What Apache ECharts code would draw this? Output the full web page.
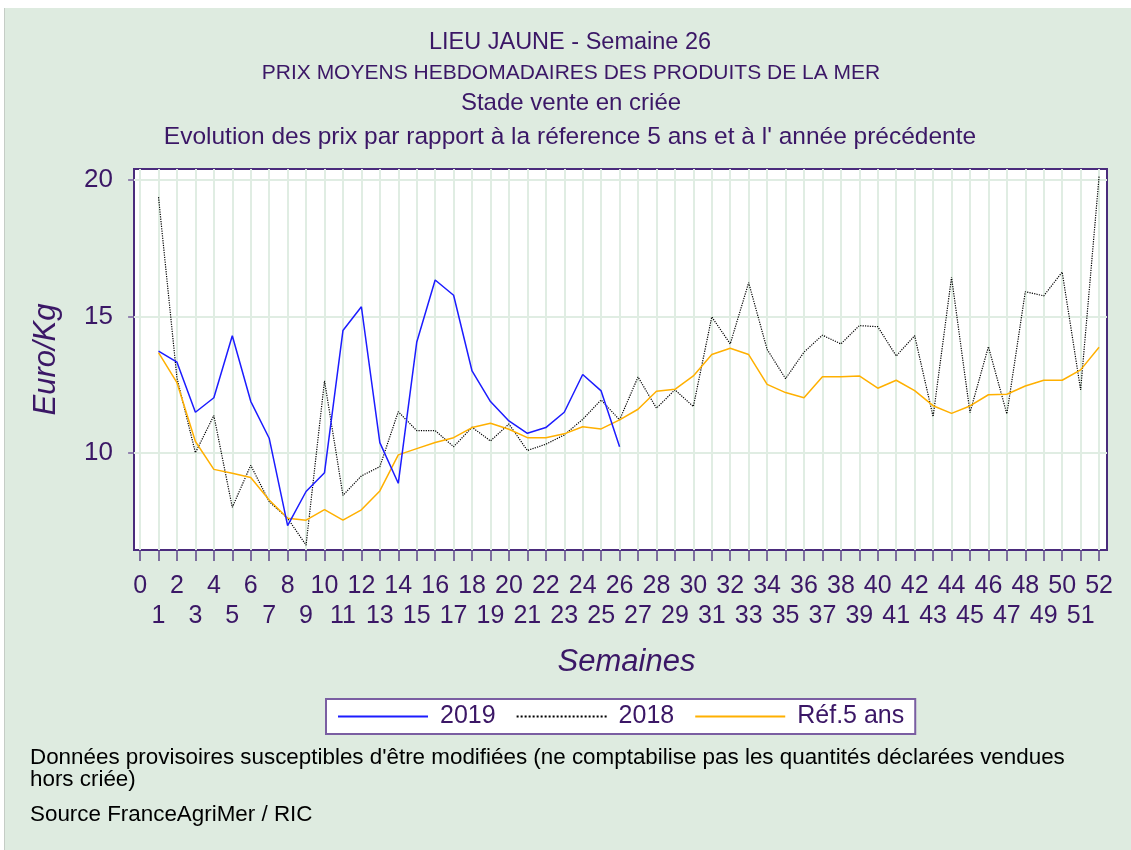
<!DOCTYPE html>
<html>
<head>
<meta charset="utf-8">
<title>Lieu jaune - Semaine 26</title>
<script src="https://cdn.jsdelivr.net/npm/echarts@6/dist/echarts.min.js"></script>
<style>
  html, body { margin: 0; padding: 0; background: #fff; }
  #frame { position: absolute; left: 4px; top: 8px; width: 1127px; height: 842px; background: #deebe0; border-left: 1px solid #c5cdc6; }
  #chart { position: absolute; left: 0; top: 0; width: 1131px; height: 850px; }
</style>
</head>
<body>
<div id="frame"></div>
<div id="chart"></div>
<script>
  // Semaines 0..52 (axe)
  const weekTicks = [0, 1, 2, 3, 4, 5, 6, 7, 8, 9, 10, 11, 12, 13, 14, 15, 16, 17, 18, 19, 20,
    21, 22, 23, 24, 25, 26, 27, 28, 29, 30, 31, 32, 33, 34, 35, 36, 37, 38, 39, 40,
    41, 42, 43, 44, 45, 46, 47, 48, 49, 50, 51, 52];
  const yTicks = [10, 15, 20];

  // prix en euro/kg, semaine 1 en premier
  const prix2019 = [13.74, 13.33, 11.50, 12.03, 14.30, 11.90, 10.55, 7.35, 8.60, 9.29,
    14.49, 15.36, 10.39, 8.90, 14.06, 16.34, 15.78, 13.01, 11.89, 11.18,
    10.73, 10.94, 11.50, 12.88, 12.28, 10.24];

  const prix2018 = [19.37, 12.75, 10.02, 11.38, 8.02, 9.56, 8.23, 7.62, 6.64, 12.65,
    8.46, 9.17, 9.51, 11.52, 10.83, 10.83, 10.24, 10.95, 10.45, 11.07,
    10.10, 10.33, 10.67, 11.24, 11.95, 11.22, 12.79, 11.65, 12.32, 11.71,
    14.99, 14.00, 16.24, 13.80, 12.73, 13.70, 14.32, 14.00, 14.67, 14.63,
    13.56, 14.30, 11.34, 16.44, 11.49, 13.90, 11.44, 15.91, 15.76, 16.63,
    12.32, 20.12];

  const ref5ans = [13.68, 12.58, 10.43, 9.41, 9.27, 9.11, 8.29, 7.62, 7.55, 7.94,
    7.55, 7.93, 8.62, 9.94, 10.17, 10.39, 10.57, 10.94, 11.10, 10.88,
    10.57, 10.57, 10.71, 10.97, 10.89, 11.22, 11.61, 12.27, 12.34, 12.83,
    13.61, 13.84, 13.61, 12.52, 12.22, 12.03, 12.80, 12.80, 12.83, 12.38,
    12.67, 12.29, 11.74, 11.46, 11.73, 12.14, 12.16, 12.46, 12.67, 12.67,
    13.05, 13.88];

  const purple = '#3b1766';
  const gridGreen = '#e0ede3';
  const font = "'Liberation Sans', Arial, sans-serif";

  // semaines paires sur la 1re ligne, impaires sur la 2e
  const evenWeeks = weekTicks.filter((w) => w % 2 === 0);
  const oddWeeks = weekTicks.filter((w) => w % 2 === 1);

  const toPoints = (arr) => arr.map((v, i) => [i + 1, v]);

  const chart = echarts.init(document.getElementById('chart'));

  const txt = (x, y, text, size, color, align) => ({
    type: 'text',
    x: x,
    y: y,
    silent: true,
    style: {
      text: text,
      font: size + 'px ' + font,
      fill: color,
      align: align,
      textAlign: align,
      verticalAlign: 'middle',
      textVerticalAlign: 'middle'
    }
  });

  const labelStyle = {
    showMinLabel: true,
    showMaxLabel: true,
    hideOverlap: false,
    color: purple,
    fontSize: 25,
    fontFamily: font
  };

  const option = {
    backgroundColor: 'transparent',
    animation: false,
    graphic: [
      txt(570, 43, 'LIEU JAUNE - Semaine 26', 23.5, purple, 'center'),
      txt(571, 73, 'PRIX MOYENS HEBDOMADAIRES DES PRODUITS DE LA MER', 21, purple, 'center'),
      txt(571, 103, 'Stade vente en criée', 24, purple, 'center'),
      txt(570, 137, "Evolution des prix par rapport à la réference 5 ans et à l' année précédente", 24.5, purple, 'center'),
      txt(30, 758, "Données provisoires susceptibles d'être modifiées (ne comptabilise pas les quantités déclarées vendues", 22.4, '#000', 'left'),
      txt(30, 780, 'hors criée)', 22.4, '#000', 'left'),
      txt(30, 815, 'Source FranceAgriMer / RIC', 22.4, '#000', 'left')
    ],
    grid: {
      left: 134,
      right: 24,
      top: 169,
      bottom: 300,
      show: true,
      backgroundColor: '#fff',
      borderColor: '#4a2b7c',
      borderWidth: 2
    },
    legend: {
      left: 326,
      top: 699,
      data: ['2019', '2018', 'Réf.5 ans'],
      itemWidth: 90,
      itemHeight: 14,
      itemGap: 20,
      padding: [5, 11, 5, 11],
      backgroundColor: '#fff',
      borderColor: '#7a5ea2',
      borderWidth: 2,
      itemStyle: { opacity: 0 },
      textStyle: { color: purple, fontSize: 25, fontFamily: font, padding: [0, 0, 0, 7] }
    },
    xAxis: [
      {
        type: 'value',
        min: -0.33,
        max: 52.43,
        name: 'Semaines',
        nameLocation: 'middle',
        nameGap: 97,
        nameTextStyle: { color: purple, fontSize: 31, fontStyle: 'italic', fontFamily: font, padding: [0, 0, 0, 12] },
        axisLine: { show: true, lineStyle: { color: '#4a2b7c', width: 2 } },
        axisTick: { show: true, customValues: weekTicks, length: 11, lineStyle: { color: '#5c4488', width: 1.5 } },
        axisLabel: Object.assign({ customValues: evenWeeks, margin: 24 }, labelStyle),
        splitLine: { show: false }
      },
      {
        type: 'value',
        gridIndex: 0,
        position: 'bottom',
        min: -0.33,
        max: 52.43,
        axisLine: { show: false },
        axisTick: { show: false },
        axisLabel: Object.assign({ customValues: oddWeeks, margin: 54 }, labelStyle),
        splitLine: { show: false }
      }
    ],
    yAxis: {
      type: 'value',
      min: 6.46,
      max: 20.4,
      name: 'Euro/Kg',
      nameLocation: 'middle',
      nameGap: 72,
      nameTextStyle: { color: purple, fontSize: 31, fontStyle: 'italic', fontFamily: font },
      axisLine: { show: true, lineStyle: { color: '#4a2b7c', width: 2 } },
      axisTick: { show: true, customValues: yTicks, length: 12, lineStyle: { color: '#7a62a0', width: 1.5 } },
      axisLabel: { customValues: yTicks, color: purple, fontSize: 26, fontFamily: font, margin: 21 },
      splitLine: { show: false }
    },
    series: [
      {
        name: 'grille',
        type: 'line',
        data: [],
        silent: true,
        markLine: {
          silent: true,
          z: 1,
          symbol: 'none',
          label: { show: false },
          lineStyle: { color: gridGreen, width: 2, type: 'solid' },
          data: weekTicks.map((w) => ({ xAxis: w })).concat(yTicks.map((v) => ({ yAxis: v })))
        }
      },
      {
        name: '2019',
        type: 'line',
        data: toPoints(prix2019),
        symbol: 'none',
        z: 4,
        lineStyle: { color: '#1c1cff', width: 1.5 },
        itemStyle: { color: '#1c1cff' }
      },
      {
        name: '2018',
        type: 'line',
        data: toPoints(prix2018),
        symbol: 'none',
        z: 3,
        lineStyle: { color: '#000', width: 1.2, type: 'dotted' },
        itemStyle: { color: '#000' }
      },
      {
        name: 'Réf.5 ans',
        type: 'line',
        data: toPoints(ref5ans),
        symbol: 'none',
        z: 3,
        lineStyle: { color: '#ffb000', width: 1.5 },
        itemStyle: { color: '#ffb000' }
      }
    ]
  };

  chart.setOption(option);
  window.addEventListener('resize', () => chart.resize());
</script>
</body>
</html>
